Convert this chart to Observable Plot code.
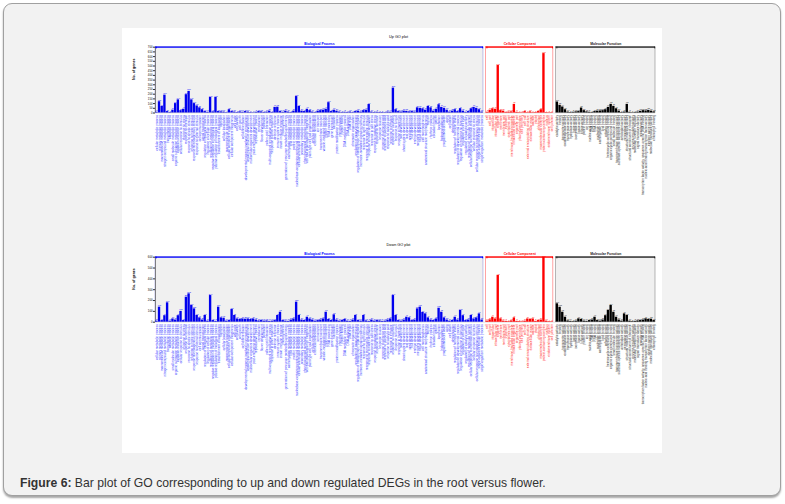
<!DOCTYPE html>
<html><head><meta charset="utf-8">
<script src="https://cdn.jsdelivr.net/npm/d3@7"></script>
<script src="https://cdn.jsdelivr.net/npm/@observablehq/plot@0.6"></script>
<style>
html,body{margin:0;padding:0;background:#fff;width:785px;height:504px;overflow:hidden;font-family:"Liberation Sans",Arial,sans-serif;}
#frame{position:absolute;left:3px;top:3px;width:776px;height:491px;border:1px solid #a0a0a0;border-radius:9px;background:#f2f2f2;box-shadow:0 2px 2px rgba(0,0,0,0.35);}
#panel{position:absolute;left:122px;top:28px;width:540px;height:425px;background:#fff;}
#panel svg{display:block;}
#caption{position:absolute;left:20px;top:476px;font-size:12.2px;color:#333;white-space:nowrap;}
</style></head>
<body>
<div id="frame"></div>
<div id="panel"></div>
<div id="caption"><b>Figure 6:</b> Bar plot of GO corresponding to up and down regulated DEGs in the root versus flower.</div>
<script>
const bpTerms = [
"cellular metabolic process","primary metabolic process","macromolecule metabolic process","nitrogen compound metabolic process","biosynthetic process","catabolic process","small molecule metabolic process","organic substance metabolic process","oxidation-reduction process","cellular response to stimulus","response to stress","response to chemical","response to abiotic stimulus","response to biotic stimulus","response to endogenous stimulus","response to external stimulus","cell communication","signal transduction","regulation of biological process","regulation of cellular process","regulation of metabolic process","negative regulation of biological process","positive regulation of biological process","establishment of localization","transport","cellular localization","macromolecule localization","cellular component organization","cellular component biogenesis","cell cycle","cell division","cell growth","cell differentiation","developmental process involved in reproduction","anatomical structure development","multicellular organism development","post-embryonic development","reproductive process","reproduction","flower development","pollination","pollen-pistil interaction","multi-organism reproductive process","response to other organism","defense response","immune system process","innate immune response","photosynthesis","generation of precursor metabolites and energy","carbohydrate metabolic process","lipid metabolic process","protein metabolic process","nucleobase-containing compound metabolic process","cellular amino acid metabolic process","secondary metabolic process","phenylpropanoid metabolic process","cell wall organization or biogenesis","plant-type cell wall organization","cellular homeostasis","chemical homeostasis","ion transport","transmembrane transport","vesicle-mediated transport","protein transport","RNA processing","gene expression","translation","protein modification process","phosphorylation","protein folding","DNA metabolic process","DNA replication","DNA repair","chromatin organization","regulation of gene expression","regulation of transcription, DNA-templated","hormone-mediated signaling pathway","response to light stimulus","response to temperature stimulus","response to water deprivation","response to salt stress","response to oxidative stress","response to hormone","response to auxin","response to abscisic acid","response to jasmonic acid","response to salicylic acid","response to ethylene","response to wounding","response to fungus","response to bacterium","root development","shoot system development","leaf development","seed development","fruit development","embryo development","meristem development","tissue development","cell morphogenesis","anatomical structure morphogenesis","tropism","rhythmic process","circadian rhythm","growth","locomotion","biological adhesion","programmed cell death","aging","cell death","detoxification","regulation of hormone levels","regulation of developmental process","regulation of response to stimulus","regulation of cell cycle","regulation of catalytic activity","regulation of molecular function","cellular response to chemical stimulus","cellular response to stress","cellular response to endogenous stimulus","single-organism cellular process","single-organism metabolic process"];
const ccTerms = ["cell","cell part","intracellular","intracellular part","organelle","membrane","membrane part","cytoplasm","cytoplasmic part","membrane-bounded organelle","intracellular organelle","organelle part","plasma membrane","cell periphery","cell wall","external encapsulating structure","extracellular region","vacuole","plastid","chloroplast","macromolecular complex","protein-containing complex","nucleus","endomembrane system","cell junction"];
const mfTerms = ["catalytic activity","binding","transporter activity","oxidoreductase activity","transferase activity","hydrolase activity","lyase activity","isomerase activity","ligase activity","kinase activity","protein binding","ion binding","nucleic acid binding","DNA binding","RNA binding","nucleotide binding","carbohydrate binding","lipid binding","cofactor binding","heterocyclic compound binding","organic cyclic compound binding","small molecule binding","transmembrane transporter activity","substrate-specific transporter activity","antioxidant activity","peroxidase activity","structural molecule activity","structural constituent of ribosome","enzyme regulator activity","molecular function regulator","signal transducer activity","receptor activity","transcription factor activity, sequence-specific DNA binding","nucleic acid binding transcription factor activity","electron carrier activity","molecular transducer activity","chlorophyll binding"];

const bpUp = [8,120,70,190,15,5,30,100,140,25,40,195,230,140,100,75,55,35,15,8,165,12,165,15,12,10,4,35,15,10,5,12,8,15,10,5,3,8,15,12,6,10,20,5,60,62,15,8,20,10,5,20,175,70,20,15,40,25,10,5,20,25,30,40,110,15,30,20,10,5,8,6,10,5,15,20,10,25,30,90,10,5,8,6,5,4,10,8,265,35,15,10,20,18,12,15,10,55,50,45,30,70,55,20,40,88,60,50,30,10,20,35,15,46,20,8,15,45,60,50,35,10];
const bpDown = [10,139,15,60,179,10,30,20,60,100,15,231,262,154,123,62,40,20,62,10,246,15,8,139,40,37,10,15,117,62,30,25,30,28,30,25,30,20,12,15,10,12,8,10,15,62,92,15,10,8,20,30,185,62,20,15,46,30,20,10,15,20,30,92,25,15,68,20,10,15,25,10,8,20,62,15,10,62,12,8,20,10,15,12,8,10,20,30,246,62,15,10,20,46,40,15,20,123,139,90,77,40,20,15,30,129,92,40,20,10,15,46,20,108,60,15,20,62,30,40,77,20];
const ccUp = [8,30,45,40,505,25,20,5,10,12,92,8,3,2,15,3,12,3,5,15,35,632,4,2,3];
const ccDown = [10,22,46,30,431,31,10,8,5,12,40,8,5,3,10,30,25,30,8,15,20,598,10,4,3];
const mfUp = [117,82,64,35,10,5,8,12,15,53,25,12,8,5,15,20,22,25,35,60,92,71,45,20,5,10,92,8,3,5,10,18,25,22,28,20,12];
const mfDown = [170,138,92,46,12,8,5,10,31,25,10,8,15,20,46,15,10,20,60,108,154,92,46,20,10,77,62,10,5,8,12,15,20,31,25,28,15];
const upTicks = [0,50,100,150,200,250,300,350,400,450,500,550,600,650,700];
const downTicks = [0,100,200,300,400,500,600];

const groupDefs = [
  {name:"Biological Process", terms:bpTerms, up:bpUp, down:bpDown, color:"#0000ff", label:"#4444ff", bar:"#0000ee", bg:"#f0f0f0", border:"#9999dd", start:0},
  {name:"Cellular Component", terms:ccTerms, up:ccUp, down:ccDown, color:"#ff0000", label:"#ff3333", bar:"#ff0000", bg:"#ffffff", border:"#ff6666", start:bpTerms.length+1},
  {name:"Molecular Function", terms:mfTerms, up:mfUp, down:mfDown, color:"#222222", label:"#333333", bar:"#000000", bg:"#f0f0f0", border:"#888888", start:bpTerms.length+ccTerms.length+2}
];
const N = bpTerms.length+ccTerms.length+mfTerms.length+2;

function drawGO(title, key, ticks, mt, mb, titleDy) {
  const ymax = ticks[ticks.length-1];
  const rows = [];
  groupDefs.forEach(g => g.terms.forEach((t,i) => rows.push({term:t, v:g[key][i], x:g.start+i, color:g.color, label:g.label, bar:g.bar})));
  const groups = groupDefs.map(g => ({...g, x1:g.start-0.5, x2:g.start+g.terms.length-0.5, cx:g.start+(g.terms.length-1)/2}));
  const caps = groups.flatMap(g => [{x:g.x1+0.3, c:g.color},{x:g.x2-0.3, c:g.color}]);
  return Plot.plot({
    width:540, height:212, marginLeft:33, marginRight:7, marginTop:mt, marginBottom:mb,
    x:{domain:[-0.5, N-0.5], axis:null},
    y:{domain:[0, ymax], axis:null},
    style:{background:"transparent", fontFamily:"'Liberation Sans', Arial, sans-serif"},
    marks:[
      Plot.rect(groups, {x1:"x1", x2:"x2", y1:0, y2:ymax, fill:"bg", stroke:"border", strokeWidth:0.6}),
      Plot.ruleX([-0.5], {y1:0, y2:ymax, stroke:"#555", strokeWidth:0.7}),
      Plot.ruleY(groups, {y:ymax, x1:"x1", x2:"x2", stroke:"color", strokeWidth:1.3}),
      Plot.ruleX(caps, {x:"x", y1:ymax, y2:ymax*0.975, stroke:"c", strokeWidth:1}),
      Plot.text(groups, {x:"cx", y:ymax, text:"name", dy:-3.6, fill:"color", fontSize:3.4, fontWeight:"bold"}),
      Plot.rectY(rows, {x1:d=>d.x-0.44, x2:d=>d.x+0.44, y:"v", fill:"bar"}),
      Plot.text(rows, {x:"x", y:"v", text:d=>String(d.v), dy:-1.6, fill:"color", fontSize:2.1}),
      Plot.text(rows, {x:"x", y:0, text:"term", rotate:-90, textAnchor:"end", dy:2, fill:"label", fontSize:3.1}),
      Plot.ruleY([0], {x1:-0.5, x2:N-0.5, stroke:"#bbb", strokeWidth:0.4}),
      Plot.axisY({ticks, tickSize:2, tickPadding:1, fontSize:2.8, label:null, stroke:"#333"}),
      Plot.text(["No. of genes"], {frameAnchor:"left", rotate:-90, dx:-22, fontSize:3.6, fontWeight:"bold"}),
      Plot.text([title], {frameAnchor:"top", dx:-7, dy:titleDy, fontSize:3.8})
    ]
  });
}

const panel = document.getElementById("panel");
panel.appendChild(drawGO("Up GO plot", "up", upTicks, 18.7, 127.5, -11.5));
panel.appendChild(drawGO("Down GO plot", "down", downTicks, 16.7, 130.3, -13.5));
</script>
</body></html>
